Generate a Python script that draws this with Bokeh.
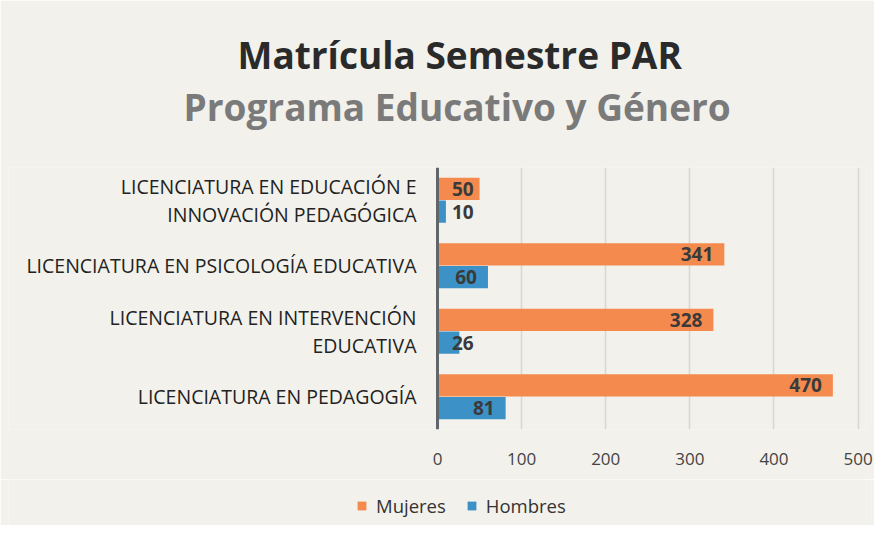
import numpy as np
from bokeh.plotting import figure
from bokeh.layouts import column
from bokeh.models import (ColumnDataSource, FactorRange, Range1d, FixedTicker, Title,
                          Legend, LegendItem, Span)
from bokeh.transform import dodge
from bokeh.core.properties import value
from bokeh.embed import file_html
from bokeh.resources import INLINE

# ---- data ----
categories = [
    "LICENCIATURA EN EDUCACIÓN E\nINNOVACIÓN PEDAGÓGICA",
    "LICENCIATURA EN PSICOLOGÍA EDUCATIVA",
    "LICENCIATURA EN INTERVENCIÓN\nEDUCATIVA",
    "LICENCIATURA EN PEDAGOGÍA",
]
mujeres = [50, 341, 328, 470]
hombres = [10, 60, 26, 81]
series_names = ["Mujeres", "Hombres"]
x_ticks = [0, 100, 200, 300, 400, 500]
title_line1 = "Matrícula Semestre PAR"
title_line2 = "Programa Educativo y Género"

# ---- style ----
BG = "#f2f1eb"
ORANGE = "#f58a4e"
BLUE = "#3c91c6"
FONT = "Open Sans"

src = ColumnDataSource(dict(
    cat=categories,
    mujeres=mujeres,
    hombres=hombres,
    mujeres_lbl=[str(v) for v in mujeres],
    hombres_lbl=[str(v) for v in hombres],
    mujeres_pos=np.maximum(np.array(mujeres), 56),
    hombres_pos=np.maximum(np.array(hombres), 56),
))

p = figure(
    y_range=FactorRange(factors=list(reversed(categories))),
    x_range=Range1d(-510, 510),
    frame_width=858, frame_height=262,
    min_border_left=8, min_border_right=8,
    min_border_top=167, min_border_bottom=50,
    y_axis_location=None,
    toolbar_location=None,
    output_backend="svg",
)
p.title.text = ""
p.background_fill_color = BG
p.border_fill_color = BG
p.outline_line_color = None

# bars
bar_h = 0.34
p.hbar(y=dodge("cat", 0.175, range=p.y_range), left=0, right="mujeres",
       height=bar_h, source=src, fill_color=ORANGE, line_color=None)
p.hbar(y=dodge("cat", -0.175, range=p.y_range), left=0, right="hombres",
       height=bar_h, source=src, fill_color=BLUE, line_color=None)

# value labels
for pos, lbl, off in (("mujeres_pos", "mujeres_lbl", 0.175), ("hombres_pos", "hombres_lbl", -0.175)):
    p.text(x=pos, y=dodge("cat", off, range=p.y_range), text=lbl,
           source=src, x_offset=-11, text_align="right", text_baseline="middle",
           text_font=value(FONT), text_font_style="bold", text_font_size="19px",
           text_color="#3a3a3a")

# category labels
src_lbl = ColumnDataSource(dict(cat=categories, zero=[0] * len(categories)))
p.text(x="zero", y="cat", text="cat", source=src_lbl, x_offset=-21,
       text_align="right", text_baseline="middle", text_line_height=1.05,
       text_font=value(FONT), text_font_size="19.5px", text_color="#222222")

# vertical axis line at 0
p.add_layout(Span(location=0, dimension="height", line_color="#62666a", line_width=3))

# grid
p.ygrid.visible = False
p.xgrid.ticker = FixedTicker(ticks=x_ticks[1:])
p.xgrid.grid_line_color = "#d6d6d3"
p.xgrid.grid_line_width = 1.5

# x axis
p.xaxis.ticker = FixedTicker(ticks=x_ticks)
p.xaxis.axis_line_color = None
p.xaxis.major_tick_line_color = None
p.xaxis.minor_tick_line_color = None
p.xaxis.major_label_standoff = 17
p.xaxis.major_label_text_font = FONT
p.xaxis.major_label_text_font_size = "17px"
p.xaxis.major_label_text_color = "#444444"

# titles (first added is closest to the frame)
p.add_layout(Title(text=" ", text_font_size="10px", standoff=23), "above")
p.add_layout(Title(text=title_line2, align="left", offset=175, standoff=-1,
                   text_font=FONT, text_font_style="bold", text_font_size="37px",
                   text_color="#7a7a7a"), "above")
p.add_layout(Title(text=title_line1, align="left", offset=229, standoff=-1,
                   text_font=FONT, text_font_style="bold", text_font_size="37px",
                   text_color="#2a2a2a"), "above")

# ---- legend strip (separate figure below the chart) ----
leg = figure(width=874, height=46, x_range=Range1d(0, 1), y_range=Range1d(0, 1),
             min_border=0, x_axis_location=None, y_axis_location=None,
             toolbar_location=None, output_backend="svg")
leg.title.text = ""
leg.background_fill_color = BG
leg.border_fill_color = BG
leg.outline_line_color = None
leg.grid.visible = False
# zero-size proxy bars: they only supply the legend swatches
proxy = ColumnDataSource(dict(y=[0], left=[0], right=[0]))
lm = leg.hbar(y="y", left="left", right="right", height=0, source=proxy,
              fill_color=ORANGE, line_color=None)
lh = leg.hbar(y="y", left="left", right="right", height=0, source=proxy,
              fill_color=BLUE, line_color=None)
legend = Legend(items=[LegendItem(label=series_names[0], renderers=[lm]),
                       LegendItem(label=series_names[1], renderers=[lh])],
                orientation="horizontal", location=(348, 7),
                glyph_width=11, glyph_height=11, label_standoff=9, spacing=20,
                padding=4, margin=0, border_line_color=None,
                background_fill_alpha=0,
                label_text_font=FONT, label_text_font_size="18.5px",
                label_text_color="#333333")
leg.add_layout(legend, "center")

layout = column(p, leg, spacing=0)

with open("out.html", "w") as f:
    f.write(file_html(layout, INLINE))
